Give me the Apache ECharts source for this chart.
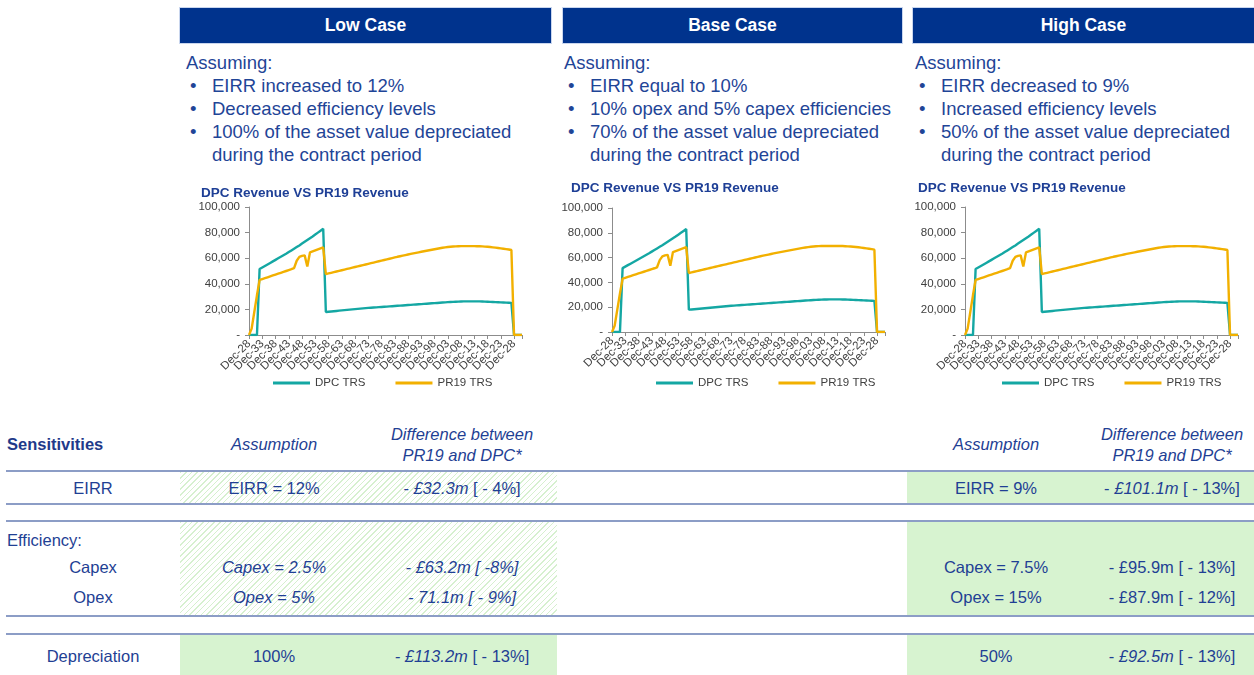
<!DOCTYPE html>
<html>
<head>
<meta charset="utf-8">
<script src="https://cdn.jsdelivr.net/npm/echarts@6/dist/echarts.min.js"></script>
<style>
  body { margin: 0; width: 1254px; height: 675px; position: relative; overflow: hidden; background: #fff;
         font-family: "Liberation Sans", Arial, sans-serif; color: #1F3F94; }
  .hdr { position: absolute; top: 8px; height: 35px; background: #00338D; color: #fff; font-weight: bold;
         font-size: 17.5px; display: flex; align-items: center; justify-content: center; box-shadow: 0 0 0 1px #c9d6ee; }
  .ass { position: absolute; top: 51px; font-size: 18.5px; line-height: 23px; color: #1F4597; white-space: nowrap; }
  .ass .b { position: relative; padding-left: 26px; }
  .ass .b span { position: absolute; left: 4px; }
  .ln { position: absolute; left: 6px; width: 1248px; height: 2px; background: #8C9DC6; }
  .hatch { position: absolute; background: repeating-linear-gradient(135deg, #d6f0cf 0 1px, #ffffff 1px 4px); }
  .fill { position: absolute; background: #D7F3D0; }
  .c { position: absolute; transform: translate(-50%, -50%); white-space: nowrap; font-size: 16.5px; }
  .l { position: absolute; transform: translateY(-50%); white-space: nowrap; font-size: 16.5px; }
  i { font-style: italic; }
  #charts { position: absolute; left: 0; top: 170px; width: 1254px; height: 230px; }
</style>
</head>
<body>
<div class="hdr" style="left:180px;width:371px">Low Case</div>
<div class="hdr" style="left:563px;width:339px">Base Case</div>
<div class="hdr" style="left:913px;width:341px">High Case</div>

<div class="ass" style="left:186px">Assuming:
  <div class="b"><span>•</span>EIRR increased to 12%</div>
  <div class="b"><span>•</span>Decreased efficiency levels</div>
  <div class="b"><span>•</span>100% of the asset value depreciated<br>during the contract period</div>
</div>
<div class="ass" style="left:564px">Assuming:
  <div class="b"><span>•</span>EIRR equal to 10%</div>
  <div class="b"><span>•</span>10% opex and 5% capex efficiencies</div>
  <div class="b"><span>•</span>70% of the asset value depreciated<br>during the contract period</div>
</div>
<div class="ass" style="left:915px">Assuming:
  <div class="b"><span>•</span>EIRR decreased to 9%</div>
  <div class="b"><span>•</span>Increased efficiency levels</div>
  <div class="b"><span>•</span>50% of the asset value depreciated<br>during the contract period</div>
</div>

<div id="charts"></div>

<!-- table fills -->
<div class="hatch" style="left:180px;width:377px;top:472px;height:32px"></div>
<div class="hatch" style="left:180px;width:377px;top:522px;height:94px"></div>
<div class="fill" style="left:180px;width:377px;top:635px;height:40px"></div>
<div class="fill" style="left:907px;width:347px;top:472px;height:32px"></div>
<div class="fill" style="left:907px;width:347px;top:522px;height:94px"></div>
<div class="fill" style="left:907px;width:347px;top:635px;height:40px"></div>

<div class="ln" style="top:470px"></div>
<div class="ln" style="top:503px"></div>
<div class="ln" style="top:520px"></div>
<div class="ln" style="top:615px"></div>
<div class="ln" style="top:633px"></div>

<div class="l" style="left:7px;top:444px;font-weight:bold;color:#1F3A8A">Sensitivities</div>
<div class="c" style="left:274px;top:444px"><i>Assumption</i></div>
<div class="c" style="left:462px;top:434px"><i>Difference between</i></div>
<div class="c" style="left:462px;top:455px"><i>PR19 and DPC*</i></div>
<div class="c" style="left:996px;top:444px"><i>Assumption</i></div>
<div class="c" style="left:1172px;top:434px"><i>Difference between</i></div>
<div class="c" style="left:1172px;top:455px"><i>PR19 and DPC*</i></div>

<div class="c" style="left:93px;top:488px">EIRR</div>
<div class="c" style="left:274px;top:488px">EIRR = 12%</div>
<div class="c" style="left:462px;top:488px"><i>- £32.3m</i> [ - 4%]</div>
<div class="c" style="left:996px;top:488px">EIRR = 9%</div>
<div class="c" style="left:1172px;top:488px">- <i>£101.1m</i> [ - 13%]</div>

<div class="l" style="left:7px;top:540px">Efficiency:</div>
<div class="c" style="left:93px;top:567px">Capex</div>
<div class="c" style="left:274px;top:567px"><i>Capex = 2.5%</i></div>
<div class="c" style="left:462px;top:567px"><i>- £63.2m [ -8%]</i></div>
<div class="c" style="left:996px;top:567px">Capex = 7.5%</div>
<div class="c" style="left:1172px;top:567px">- £95.9m [ - 13%]</div>
<div class="c" style="left:93px;top:597px">Opex</div>
<div class="c" style="left:274px;top:597px"><i>Opex = 5%</i></div>
<div class="c" style="left:462px;top:597px"><i>- 71.1m [ - 9%]</i></div>
<div class="c" style="left:996px;top:597px">Opex = 15%</div>
<div class="c" style="left:1172px;top:597px">- £87.9m [ - 12%]</div>

<div class="c" style="left:93px;top:656px">Depreciation</div>
<div class="c" style="left:274px;top:656px">100%</div>
<div class="c" style="left:462px;top:656px"><i>- £113.2m</i> [ - 13%]</div>
<div class="c" style="left:996px;top:656px">50%</div>
<div class="c" style="left:1172px;top:656px">- <i>£92.5m</i> [ - 13%]</div>

<script>
// annual points, Dec-2028 .. Dec-2131
const categories = [
  'Dec-28','Dec-29','Dec-30','Dec-31','Dec-32','Dec-33','Dec-34','Dec-35','Dec-36','Dec-37',
  'Dec-38','Dec-39','Dec-40','Dec-41','Dec-42','Dec-43','Dec-44','Dec-45','Dec-46','Dec-47',
  'Dec-48','Dec-49','Dec-50','Dec-51','Dec-52','Dec-53','Dec-54','Dec-55','Dec-56','Dec-57',
  'Dec-58','Dec-59','Dec-60','Dec-61','Dec-62','Dec-63','Dec-64','Dec-65','Dec-66','Dec-67',
  'Dec-68','Dec-69','Dec-70','Dec-71','Dec-72','Dec-73','Dec-74','Dec-75','Dec-76','Dec-77',
  'Dec-78','Dec-79','Dec-80','Dec-81','Dec-82','Dec-83','Dec-84','Dec-85','Dec-86','Dec-87',
  'Dec-88','Dec-89','Dec-90','Dec-91','Dec-92','Dec-93','Dec-94','Dec-95','Dec-96','Dec-97',
  'Dec-98','Dec-99','Dec-00','Dec-01','Dec-02','Dec-03','Dec-04','Dec-05','Dec-06','Dec-07',
  'Dec-08','Dec-09','Dec-10','Dec-11','Dec-12','Dec-13','Dec-14','Dec-15','Dec-16','Dec-17',
  'Dec-18','Dec-19','Dec-20','Dec-21','Dec-22','Dec-23','Dec-24','Dec-25','Dec-26','Dec-27',
  'Dec-28','Dec-29','Dec-30','Dec-31'
]
const dpcTrs = [
  0, 0, 0, 0, 51500, 52700, 53900, 55100, 56300, 57500,
  58700, 59900, 61100, 62300, 63500, 64800, 66100, 67400, 68700, 70000,
  71400, 72800, 74200, 75600, 77000, 78500, 80000, 81500, 83000, 18000,
  18200, 18400, 18600, 18800, 19000, 19200, 19400, 19600, 19800, 20000,
  20200, 20400, 20600, 20800, 21000, 21150, 21300, 21450, 21600, 21750,
  21900, 22050, 22200, 22350, 22500, 22650, 22800, 22950, 23100, 23250,
  23400, 23550, 23700, 23850, 24000, 24150, 24300, 24450, 24600, 24750,
  24900, 25050, 25200, 25350, 25500, 25650, 25800, 25900, 26000, 26100,
  26200, 26250, 26300, 26300, 26300, 26300, 26300, 26250, 26200, 26100,
  26000, 25900, 25800, 25700, 25600, 25500, 25400, 25300, 25200, 25100,
  0, 0, 0, 0
]
const pr19Trs = [
  0, 5000, 18000, 31000, 43000, 43700, 44400, 45100, 45800, 46500,
  47200, 47900, 48600, 49300, 50000, 50700, 51400, 52200, 58000, 61000,
  61800, 62200, 53500, 64500, 65300, 66100, 66900, 67700, 68500, 47600,
  48100, 48600, 49100, 49600, 50100, 50600, 51100, 51600, 52100, 52600,
  53100, 53600, 54100, 54600, 55100, 55600, 56100, 56600, 57100, 57600,
  58100, 58600, 59100, 59600, 60100, 60600, 61100, 61550, 62000, 62450,
  62900, 63350, 63800, 64200, 64600, 65000, 65400, 65800, 66200, 66600,
  67000, 67400, 67800, 68150, 68450, 68700, 68900, 69100, 69250, 69350,
  69400, 69400, 69400, 69400, 69400, 69400, 69350, 69300, 69200, 69050,
  68900, 68700, 68500, 68300, 68000, 67700, 67400, 67100, 66800, 66400,
  0, 0, 0, 0
]
const seriesNames = ['DPC TRS', 'PR19 TRS']
const seriesColors = ['#14A7A3', '#F2B000']
const labelEvery = 5
const lastLabelIndex = 100

// one panel per case: low, base, high
let panels = [
  { grid: { left: 249, top: 37, width: 273, height: 128 }, titleLeft: 201, titleTop: 16, legendLeft: 273 },
  { grid: { left: 612, top: 38, width: 273, height: 124 }, titleLeft: 571, titleTop: 11, legendLeft: 656 },
  { grid: { left: 965, top: 37, width: 273, height: 128 }, titleLeft: 918, titleTop: 11, legendLeft: 1002 },
]

let grid = [], xAxis = [], yAxis = [], title = [], legend = [], series = []
panels.map((p, i) => {
  grid.push(p.grid)
  title.push({
    text: 'DPC Revenue VS PR19 Revenue',
    left: p.titleLeft,
    top: p.titleTop,
    padding: 0,
    textStyle: { fontSize: 13.5, fontWeight: 'bold', color: '#1E3F96', fontFamily: 'Liberation Sans' },
  })
  legend.push({
    data: seriesNames,
    left: p.legendLeft,
    top: 207,
    padding: 0,
    icon: 'rect',
    itemWidth: 37,
    itemHeight: 3,
    itemGap: 30,
    textStyle: { fontSize: 11.5, color: '#404040', fontFamily: 'Liberation Sans' },
  })
  xAxis.push({
    type: 'category',
    gridIndex: i,
    data: categories,
    boundaryGap: false,
    axisLine: { lineStyle: { color: '#8c8c8c' } },
    axisTick: { interval: labelEvery - 1, length: 4, lineStyle: { color: '#8c8c8c' } },
    axisLabel: {
      interval: 0,
      rotate: 45,
      fontSize: 11.5,
      color: '#404040',
      margin: 7,
      fontFamily: 'Liberation Sans',
      hideOverlap: false,
      showMinLabel: true,
      showMaxLabel: true,
      // every 5th year is labelled, up to the end of the contract
      formatter: (v, idx) => (idx % labelEvery === 0 && idx <= lastLabelIndex ? v : ''),
    },
  })
  yAxis.push({
    type: 'value',
    gridIndex: i,
    min: 0,
    max: 100000,
    interval: 20000,
    splitLine: { show: false },
    axisLine: { show: true, lineStyle: { color: '#8c8c8c' } },
    axisTick: { show: true, length: 4, lineStyle: { color: '#8c8c8c' } },
    axisLabel: {
      fontSize: 11.5,
      color: '#404040',
      margin: 9,
      fontFamily: 'Liberation Sans',
      formatter: (v) => (v === 0 ? '-' : v.toLocaleString('en-US')),
    },
  })
  ;[dpcTrs, pr19Trs].map((d, k) => {
    series.push({
      name: seriesNames[k],
      type: 'line',
      xAxisIndex: i,
      yAxisIndex: i,
      data: d,
      showSymbol: false,
      color: seriesColors[k],
      lineStyle: { width: 2.4, color: seriesColors[k] },
      z: k === 1 ? 3 : 2,
    })
  })
})

const myChart = echarts.init(document.getElementById('charts'))
myChart.setOption({
  animation: false,
  textStyle: { fontFamily: 'Liberation Sans' },
  title: title,
  legend: legend,
  grid: grid,
  xAxis: xAxis,
  yAxis: yAxis,
  series: series,
})
</script>
</body>
</html>
